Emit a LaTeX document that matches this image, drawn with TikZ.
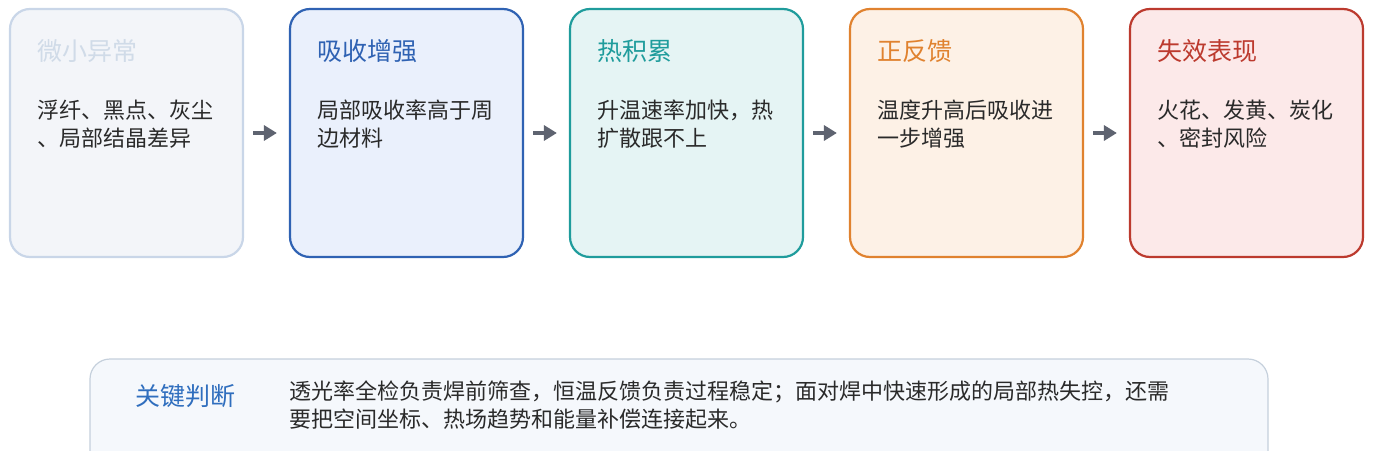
\documentclass[tikz,border=0pt]{standalone}
\usepackage{fontspec}
\setmainfont{Noto Sans CJK SC}
\usetikzlibrary{arrows.meta, positioning}

\definecolor{faintline}{HTML}{C9D6E8}
\definecolor{faintfill}{HTML}{F3F5F9}
\definecolor{fainttitle}{HTML}{D0DBE8}
\definecolor{blueline}{HTML}{2F62B3}
\definecolor{bluefill}{HTML}{EAF0FC}
\definecolor{tealline}{HTML}{1F9C9C}
\definecolor{tealfill}{HTML}{E5F4F4}
\definecolor{orangeline}{HTML}{E0822F}
\definecolor{orangefill}{HTML}{FDF1E6}
\definecolor{redline}{HTML}{BC3A2E}
\definecolor{redfill}{HTML}{FCE9E9}
\definecolor{noteline}{HTML}{C5D0DC}
\definecolor{notefill}{HTML}{F5F8FC}
\definecolor{notetitle}{HTML}{2F6EBE}
\definecolor{bodyink}{HTML}{2A2A2A}
\definecolor{arrowgray}{HTML}{5E6370}

\begin{document}
\begin{tikzpicture}[
        x=1pt,
        y=-1pt,
        stage/.style={
            draw,
            line width=2.2pt,
            rounded corners=20pt,
            minimum width=233pt,
            minimum height=248pt,
            inner sep=0pt
        },
        stagetitle/.style={
            anchor=west,
            inner sep=0pt,
            xshift=28pt,
            yshift=-43pt,
            font=\fontsize{25}{30}\selectfont
        },
        stagetext/.style={
            anchor=north west,
            inner sep=0pt,
            align=left,
            xshift=28pt,
            yshift=-92pt,
            text=bodyink,
            font=\fontsize{22}{28}\selectfont
        },
        flowarrow/.style={
            -{Triangle[length=13pt, width=15pt]},
            line width=4pt,
            arrowgray,
            shorten <=9pt,
            shorten >=12pt
        },
        node distance=44.8pt
    ]

        \useasboundingbox (0,0) rectangle (1374,450);

        % ---------------------------------------------------------------------
        % Stages of the runaway
        % ---------------------------------------------------------------------

        \node[stage, draw=faintline, fill=faintfill] (abnormal) at (126.5,133) {};
        \node[stage, draw=blueline, fill=bluefill, right=of abnormal] (absorb) {};
        \node[stage, draw=tealline, fill=tealfill, right=of absorb] (heatup) {};
        \node[stage, draw=orangeline, fill=orangefill, right=of heatup] (feedback) {};
        \node[stage, draw=redline, fill=redfill, right=of feedback] (failure) {};

        \node[stagetitle, fainttitle] (abnormaltitle) at (abnormal.north west) {微小异常};
        \node[stagetext] (abnormaltext) at (abnormal.north west) {浮纤、黑点、灰尘\\、局部结晶差异};

        \node[stagetitle, blueline] (absorbtitle) at (absorb.north west) {吸收增强};
        \node[stagetext] (absorbtext) at (absorb.north west) {局部吸收率高于周\\边材料};

        \node[stagetitle, tealline] (heatuptitle) at (heatup.north west) {热积累};
        \node[stagetext] (heatuptext) at (heatup.north west) {升温速率加快，热\\扩散跟不上};

        \node[stagetitle, orangeline] (feedbacktitle) at (feedback.north west) {正反馈};
        \node[stagetext] (feedbacktext) at (feedback.north west) {温度升高后吸收进\\一步增强};

        \node[stagetitle, redline] (failuretitle) at (failure.north west) {失效表现};
        \node[stagetext] (failuretext) at (failure.north west) {火花、发黄、炭化\\、密封风险};

        % ---------------------------------------------------------------------
        % Arrows between stages
        % ---------------------------------------------------------------------

        \draw[flowarrow] (abnormal) -- (absorb);
        \draw[flowarrow] (absorb) -- (heatup);
        \draw[flowarrow] (heatup) -- (feedback);
        \draw[flowarrow] (feedback) -- (failure);

        % ---------------------------------------------------------------------
        % Key judgement note
        % ---------------------------------------------------------------------

        \node[
            draw=noteline,
            fill=notefill,
            line width=1.2pt,
            rounded corners=20pt,
            minimum width=1178pt,
            minimum height=130pt,
            inner sep=0pt
        ] (verdict) at (679,424) {};

        \node[
            stagetitle,
            notetitle,
            xshift=18pt,
            yshift=5pt
        ] (verdicttitle) at (verdict.north west) {关键判断};

        \node[
            stagetext,
            xshift=172pt,
            yshift=70pt
        ] (verdicttext) at (verdict.north west) {透光率全检负责焊前筛查，恒温反馈负责过程稳定；面对焊中快速形成的局部热失控，还需\\要把空间坐标、热场趋势和能量补偿连接起来。};

    \end{tikzpicture}
\end{document}
